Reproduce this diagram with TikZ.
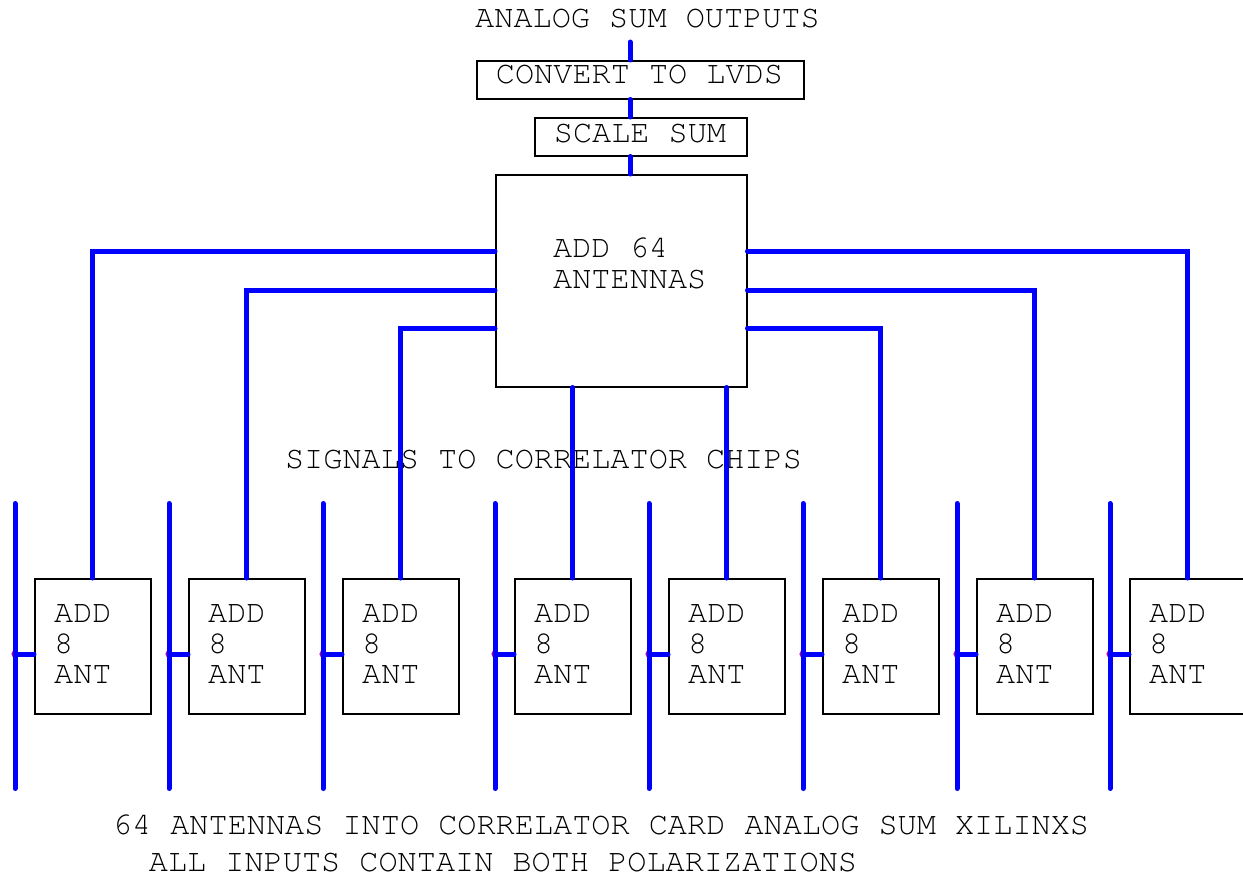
\documentclass[tikz,border=0pt]{standalone}
\usepackage[T1,TU]{fontenc}
\usetikzlibrary{calc}
\tikzset{
  lbl/.style={font=\fontencoding{T1}\fontfamily{pcr}\fontsize{31.9bp}{38bp}\selectfont, inner sep=0pt, text=black},
  blk/.style={draw=black, line width=1.5bp, inner sep=0pt, anchor=north west},
  wire/.style={draw=blue, line width=5bp, line cap=round},
  jdot/.style={fill=magenta, draw=none},
}
\begin{document}
\begin{tikzpicture}[x=1bp,y=-1bp]
\useasboundingbox (0,0) rectangle (1243,877);
\fill[white] (0,0) rectangle (1243,877);

% output chain
\node[lbl, anchor=base] (outtxt) at (647.5,27) {ANALOG SUM OUTPUTS};
\node[blk, minimum width=327bp, minimum height=38bp] (conv) at (476,60) {};
\node[lbl, anchor=base] (convtxt) at (639.5,83) {CONVERT TO LVDS};
\node[blk, minimum width=212bp, minimum height=38bp] (scale) at (534,117) {};
\node[lbl, anchor=base] (scaletxt) at (640,142) {SCALE SUM};

% 64-antenna adder
\node[blk, minimum width=251bp, minimum height=212bp] (big) at (495,174) {};
\node[lbl, anchor=base west] (bigtxta) at (553,257) {ADD 64};
\node[lbl, anchor=base west] (bigtxtb) at (553,288) {ANTENNAS};

% captions
\node[lbl, anchor=base] (sigtxt) at (543.5,468) {SIGNALS TO CORRELATOR CHIPS};
\node[lbl, anchor=base] (capa) at (601,834) {64 ANTENNAS INTO CORRELATOR CARD ANALOG SUM XILINXS};
\node[lbl, anchor=base] (capb) at (503,871) {ALL INPUTS CONTAIN BOTH POLARIZATIONS};

% row coordinates
\coordinate (rowA) at (0,251);
\coordinate (rowB) at (0,290);
\coordinate (rowC) at (0,328);
\coordinate (stubrow) at (0,654);
\coordinate (otop) at (630,42);

% 8-antenna adders with their input buses
\foreach \bx [count=\i] in {34,188,342,514,668,822,976,1129}{
  \node[blk, minimum width=116bp, minimum height=135bp] (a\i) at (\bx,578) {};
  \node[lbl, anchor=base west] (a\i l1) at (\bx+20,622) {ADD};
  \node[lbl, anchor=base west] (a\i l2) at (\bx+20,653) {8};
  \node[lbl, anchor=base west] (a\i l3) at (\bx+20,683) {ANT};
  \coordinate (bus\i t) at (\bx-19,503.5);
  \coordinate (bus\i b) at (\bx-19,788.5);
  \fill[jdot] (bus\i t |- stubrow) circle (3.6bp);
  \draw[wire] (bus\i t) -- (bus\i b);
  \draw[wire] (bus\i t |- stubrow) -- (a\i.west |- stubrow);
}

% output chain wiring
\draw[wire] (otop) -- (otop |- conv.north);
\draw[wire] (otop |- conv.south) -- (otop |- scale.north);
\draw[wire] (otop |- scale.south) -- (otop |- big.north);

% adders into the 64-antenna sum
\draw[wire] (big.west |- rowA) -| (a1.north);
\draw[wire] (big.west |- rowB) -| (a2.north);
\draw[wire] (big.west |- rowC) -| (a3.north);
\draw[wire] (big.south -| a4.north) -- (a4.north);
\draw[wire] (big.south -| a5.north) -- (a5.north);
\draw[wire] (big.east |- rowC) -| (a6.north);
\draw[wire] (big.east |- rowB) -| (a7.north);
\draw[wire] (big.east |- rowA) -| (a8.north);
\end{tikzpicture}
\end{document}
